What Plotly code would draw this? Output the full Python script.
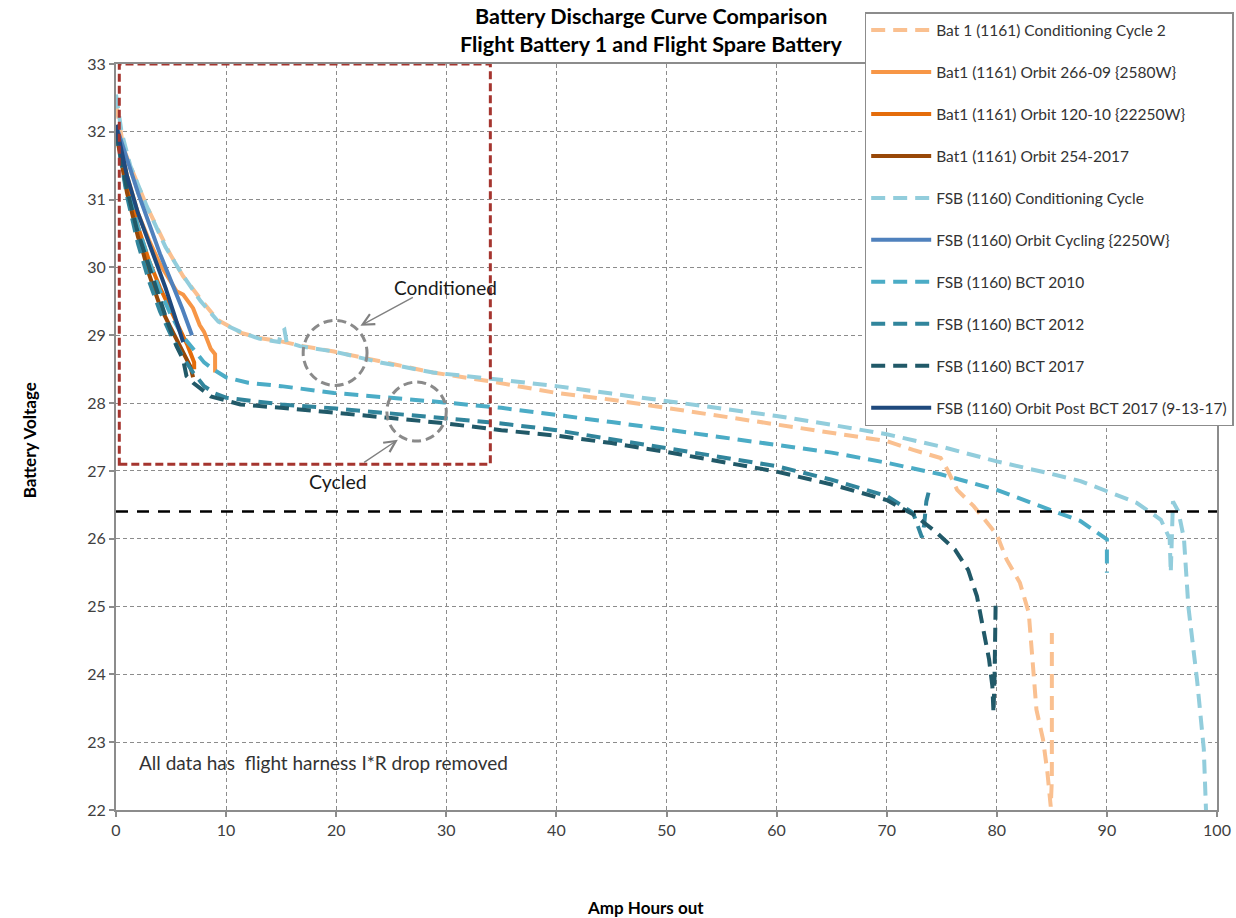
import plotly.graph_objects as go

# ---------------- data (Amp-hours out, Battery voltage) ----------------
bat1_cond_x = [0.0, 0.3, 0.7, 1.3, 2.8, 4.9, 6.1, 7.7, 9.2, 11.3, 13.0, 15.0, 17.0, 19.8, 24.0, 28.8, 34.0,
               40.0, 45.0, 50.0, 55.0, 60.0, 65.0, 70.0, 72.4, 74.9, 75.5, 76.4, 77.9, 80.0, 80.9, 82.1,
               82.9, 83.2, 83.6, 84.2, 84.6, 84.9, 85.0, 85.0]
bat1_cond_y = [32.4, 32.15, 31.75, 31.5, 30.9, 30.2, 29.87, 29.53, 29.23, 29.04, 28.96, 28.91, 28.84, 28.76,
               28.62, 28.45, 28.32, 28.15, 28.05, 27.93, 27.81, 27.68, 27.56, 27.44, 27.31, 27.19, 27.02,
               26.72, 26.48, 26.06, 25.69, 25.35, 24.91, 24.32, 23.48, 23.04, 22.55, 22.05, 22.45, 24.61]

bat1_266_x = [0.0, 1.0, 2.0, 3.0, 4.0, 5.0, 5.5, 6.1, 7.0, 7.6, 8.0, 8.6, 9.0, 9.0]
bat1_266_y = [32.1, 31.35, 30.8, 30.4, 30.05, 29.8, 29.65, 29.6, 29.4, 29.15, 29.05, 28.8, 28.72, 28.45]

bat1_120_x = [0.0, 1.0, 2.0, 3.0, 4.0, 5.0, 6.0, 6.5, 7.1, 7.1]
bat1_120_y = [32.0, 31.2, 30.6, 30.1, 29.7, 29.35, 29.0, 28.85, 28.6, 28.5]

bat1_254_x = [0.0, 1.0, 2.0, 2.5, 3.0, 4.0, 4.9, 5.8, 6.75, 7.0]
bat1_254_y = [32.0, 31.1, 30.45, 30.2, 29.9, 29.43, 29.13, 28.84, 28.54, 28.38]

fsb_cond_x = [0.0, 0.5, 1.3, 2.8, 4.5, 6.0, 7.7, 9.3, 11.3, 13.0, 14.8, 15.0, 15.3, 15.5, 16.7, 19.8, 24.0,
              28.8, 34.0, 40.0, 45.0, 50.0, 55.0, 60.0, 65.0, 70.0, 74.9, 80.0, 84.6, 87.6, 90.0, 92.7,
              94.9, 95.7, 95.8, 95.9, 96.0, 96.5, 97.0, 97.4, 98.2, 98.8, 99.0]
fsb_cond_y = [32.55, 32.0, 31.5, 30.9, 30.3, 29.9, 29.5, 29.2, 29.05, 28.95, 28.9, 29.05, 29.08, 28.9, 28.84,
              28.76, 28.6, 28.45, 28.36, 28.25, 28.14, 28.03, 27.92, 27.81, 27.68, 27.54, 27.36, 27.14,
              26.97, 26.85, 26.7, 26.53, 26.28, 26.0, 25.5, 26.3, 26.55, 26.4, 26.0, 25.0, 23.9, 22.9, 22.0]

fsb_orbit_x = [0.0, 1.0, 2.0, 3.0, 4.0, 5.0, 6.0, 6.9]
fsb_orbit_y = [32.1, 31.6, 31.1, 30.65, 30.2, 29.8, 29.4, 29.0]

bct2010_x = [0.0, 1.0, 2.0, 3.0, 4.0, 5.0, 6.0, 7.0, 8.0, 9.0, 10.0, 12.0, 15.0, 19.8, 25.0, 29.8, 35.0,
             40.0, 45.0, 50.0, 55.0, 60.0, 65.0, 70.0, 74.9, 80.0, 84.6, 87.6, 90.0, 90.0]
bct2010_y = [32.0, 31.2, 30.6, 30.1, 29.65, 29.3, 29.0, 28.8, 28.6, 28.48, 28.38, 28.3, 28.25, 28.15, 28.08,
             28.01, 27.93, 27.83, 27.72, 27.61, 27.5, 27.39, 27.27, 27.12, 26.95, 26.72, 26.45, 26.26,
             25.99, 25.5]

bct2012_x = [0.0, 1.0, 2.0, 3.0, 4.0, 5.0, 6.0, 7.0, 8.0, 9.0, 10.0, 15.0, 20.0, 25.0, 30.0, 35.0, 40.0,
             45.0, 50.0, 55.0, 60.0, 65.0, 70.0, 72.4, 73.2, 73.4, 73.6, 73.8]
bct2012_y = [32.0, 31.05, 30.35, 29.8, 29.35, 29.0, 28.7, 28.45, 28.25, 28.14, 28.08, 27.98, 27.92, 27.85,
             27.78, 27.7, 27.6, 27.47, 27.34, 27.2, 27.07, 26.87, 26.63, 26.38, 26.02, 26.2, 26.55, 26.68]

bct2017_x = [0.0, 1.0, 1.9, 3.4, 4.6, 5.5, 6.1, 6.4, 7.0, 8.6, 11.3, 15.0, 20.0, 25.0, 30.0, 35.0, 40.0,
             45.0, 50.0, 55.0, 60.0, 65.0, 70.0, 72.4, 74.4, 76.2, 77.4, 78.2, 78.7, 79.3, 79.6, 79.7,
             79.8, 79.9]
bct2017_y = [32.0, 31.15, 30.56, 29.82, 29.23, 28.84, 28.64, 28.4, 28.3, 28.1, 27.98, 27.93, 27.86, 27.78,
             27.7, 27.6, 27.52, 27.41, 27.28, 27.14, 26.99, 26.8, 26.57, 26.36, 26.11, 25.84, 25.54,
             25.15, 24.71, 24.22, 23.82, 23.43, 24.0, 25.1]

post_bct_x = [0.0, 1.0, 2.0, 3.4, 4.5, 5.3, 6.1]
post_bct_y = [32.1, 31.35, 30.8, 30.2, 29.7, 29.3, 28.9]

series_names = [
    "Bat 1 (1161) Conditioning Cycle 2",
    "Bat1 (1161) Orbit 266-09 {2580W}",
    "Bat1 (1161) Orbit 120-10 {22250W}",
    "Bat1 (1161) Orbit 254-2017",
    "FSB (1160) Conditioning Cycle",
    "FSB (1160) Orbit Cycling {2250W}",
    "FSB (1160) BCT 2010",
    "FSB (1160) BCT 2012",
    "FSB (1160) BCT 2017",
    "FSB (1160) Orbit Post BCT 2017 (9-13-17)",
]
series_x = [bat1_cond_x, bat1_266_x, bat1_120_x, bat1_254_x, fsb_cond_x,
            fsb_orbit_x, bct2010_x, bct2012_x, bct2017_x, post_bct_x]
series_y = [bat1_cond_y, bat1_266_y, bat1_120_y, bat1_254_y, fsb_cond_y,
            fsb_orbit_y, bct2010_y, bct2012_y, bct2017_y, post_bct_y]
series_colors = ["#FAC090", "#F79646", "#E46C0A", "#984807", "#92CDDC",
                 "#4F81BD", "#4BACC6", "#31859C", "#215968", "#1F497D"]
series_dashed = [True, False, False, False, True, False, True, True, True, False]

title_lines = ["Battery Discharge Curve Comparison", "Flight Battery 1 and Flight Spare Battery"]
min_voltage = 26.4
x_range = [0, 100]
y_range = [22, 33]

# ---------------- figure ----------------
FONT = "Lato, 'Open Sans', sans-serif"
fig = go.Figure()

for i, (n, xs, ys, c, d) in enumerate(zip(series_names, series_x, series_y, series_colors, series_dashed)):
    fig.add_trace(go.Scatter(
        x=xs, y=ys, mode="lines", name=n, legendgroup=f"g{i}",
        line=dict(color=c, width=4, dash="14px,8px" if d else "solid"),
    ))

# black dashed minimum-voltage line
fig.add_shape(type="line", xref="x", yref="y", x0=x_range[0], x1=x_range[1],
              y0=min_voltage, y1=min_voltage,
              line=dict(color="black", width=2.5, dash="12px,9px"))

# red dashed zoom box
fig.add_shape(type="rect", xref="x", yref="y", x0=0.3, x1=34.0, y0=27.1, y1=33.0,
              line=dict(color="#A5352F", width=3, dash="8px,4px"))

# circles
fig.add_shape(type="circle", xref="x", yref="y", x0=17.0, x1=22.8, y0=28.26, y1=29.22,
              line=dict(color="#8A8A8A", width=3, dash="9px,5px"))
fig.add_shape(type="circle", xref="x", yref="y", x0=24.6, x1=30.0, y0=27.44, y1=28.31,
              line=dict(color="#8A8A8A", width=3, dash="9px,5px"))

# arrows
fig.add_annotation(x=22.2, y=29.14, ax=27.1, ay=29.57, xref="x", yref="y", axref="x", ayref="y",
                   text="", showarrow=True, arrowhead=5, arrowsize=1.6, arrowwidth=1.4, arrowcolor="#808080")
fig.add_annotation(x=25.6, y=27.46, ax=22.4, ay=27.11, xref="x", yref="y", axref="x", ayref="y",
                   text="", showarrow=True, arrowhead=5, arrowsize=1.6, arrowwidth=1.4, arrowcolor="#808080")

# text annotations
fig.add_annotation(x=29.9, y=29.7, xref="x", yref="y", text="Conditioned", showarrow=False,
                   font=dict(family=FONT, size=19, color="#1a1a1a"))
fig.add_annotation(x=20.2, y=26.84, xref="x", yref="y", text="Cycled", showarrow=False,
                   font=dict(family=FONT, size=19.5, color="#1a1a1a"))
fig.add_annotation(x=1.9, y=22.7, xref="x", yref="y", xanchor="left",
                   text="All data has\u00a0 flight harness I*R drop removed", showarrow=False,
                   font=dict(family=FONT, size=19, color="#333333"))

# title lines
for txt, yy in zip(title_lines, [1.0643, 1.0268]):
    fig.add_annotation(x=0.486, y=yy, xref="paper", yref="paper", text=f"<b>{txt}</b>",
                       showarrow=False, xanchor="center", yanchor="middle",
                       font=dict(family=FONT, size=21.5, color="#000"))

# axis titles as annotations
fig.add_annotation(x=-0.0778, y=0.496, xref="paper", yref="paper", text="<b>Battery Voltage</b>",
                   textangle=-90, showarrow=False, xanchor="center", yanchor="middle",
                   font=dict(family=FONT, size=17, color="#000"))
fig.add_annotation(x=0.4806, y=-0.131, xref="paper", yref="paper", text="<b>Amp Hours out</b>",
                   showarrow=False, xanchor="center", yanchor="middle",
                   font=dict(family=FONT, size=17, color="#000"))

axis_common = dict(
    showline=True, linecolor="#8C8C8C", linewidth=2, mirror=True,
    showgrid=True, gridcolor="#8C8C8C", gridwidth=1.2, griddash="4px,3px",
    ticks="outside", ticklen=5, tickcolor="#8C8C8C", tickwidth=1.5,
    zeroline=False, tickfont=dict(family=FONT, size=16, color="#404040"),
)

fig.update_layout(
    width=1236, height=918,
    margin=dict(l=116, r=19, t=64, b=108, autoexpand=False),
    paper_bgcolor="white", plot_bgcolor="white",
    xaxis=dict(range=x_range, dtick=10, **axis_common),
    yaxis=dict(range=y_range, dtick=1, **axis_common),
    legend=dict(x=0.680, xanchor="left", y=1.0697, yanchor="top",
                bgcolor="white", bordercolor="#8C8C8C", borderwidth=1.5,
                tracegroupgap=18.8, itemwidth=60, traceorder="grouped",
                font=dict(family=FONT, size=15.5, color="#333333")),
    showlegend=True,
)

fig.write_html("out.html", config={"displayModeBar": False},
               post_script="document.body.style.margin='0px';")
